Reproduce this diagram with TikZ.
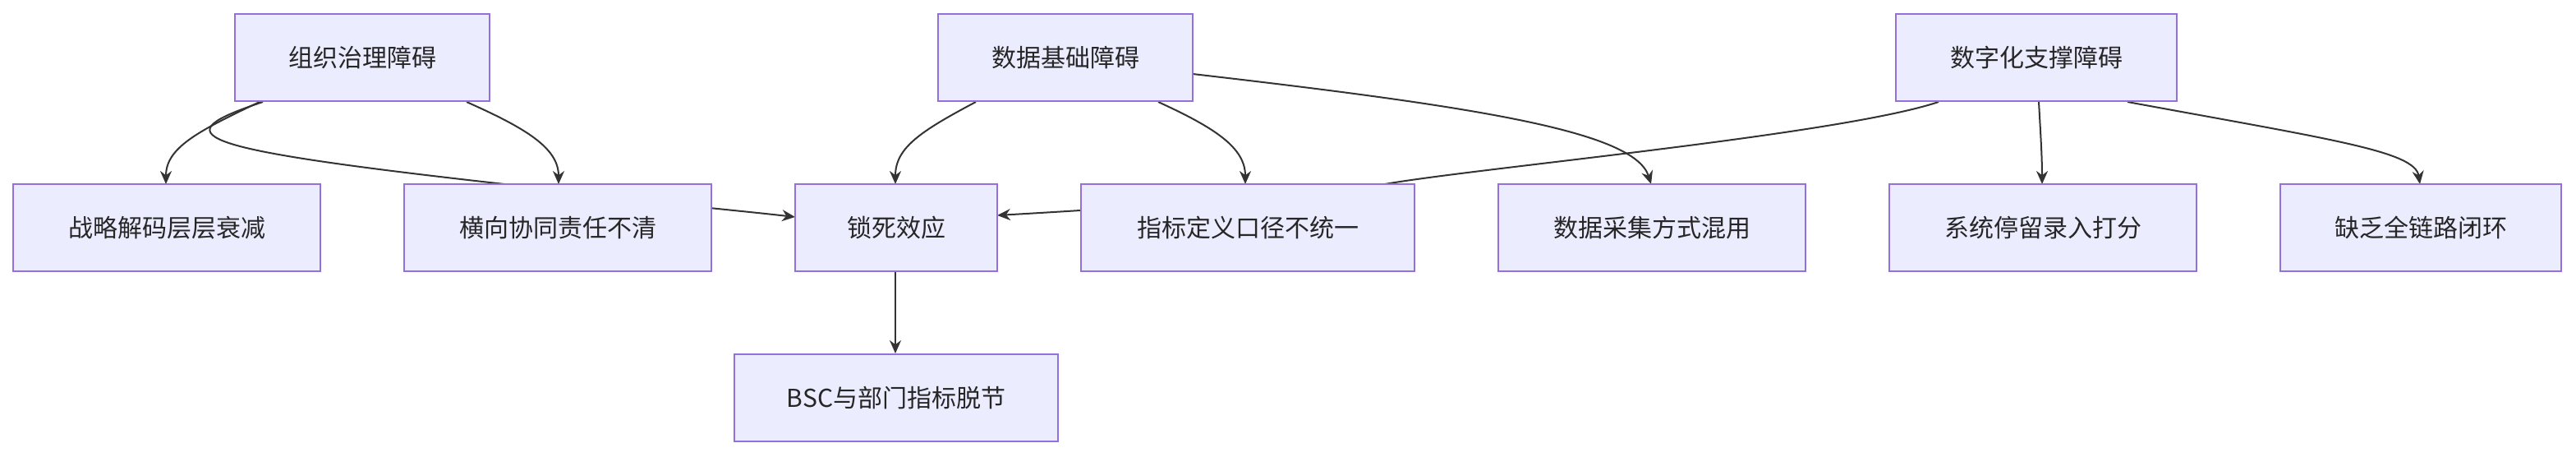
\documentclass[tikz,border=0pt]{standalone}
\usepackage{fontspec}
\setmainfont{Noto Sans CJK SC}
\usetikzlibrary{arrows.meta}
\definecolor{nfill}{HTML}{ECECFF}
\definecolor{nborder}{HTML}{9370DB}
\definecolor{eline}{HTML}{333333}
\begin{document}
\begin{tikzpicture}[x=1pt,y=-1pt,
  box/.style={draw=nborder,fill=nfill,line width=0.8pt,minimum height=53pt,inner sep=0pt,font=\fontsize{15}{18}\selectfont,text=black!85},
  edge/.style={draw=eline,line width=1pt,-{Stealth[length=8pt,width=7pt]}}]
\useasboundingbox (0,0) rectangle (1568,278);
% coordinates for nodes
\coordinate (cA) at (220.5,35);
\coordinate (cB) at (648.5,35);
\coordinate (cC) at (1239.5,35);
% edges first (drawn behind nodes)
\begin{scope}
\draw[edge] (158,62) .. controls (120,80) and (101,90) .. (101,112);
\draw[edge] (284,62) .. controls (320,78) and (340,90) .. (340,112);
\draw[edge] (160,62) .. controls (100,82) and (110,90) .. (307,112) .. controls (380,122) and (440,127) .. (484,132);
\draw[edge] (594,62) .. controls (560,80) and (545,90) .. (545,112);
\draw[edge] (705,62) .. controls (740,78) and (758,90) .. (758,112);
\draw[edge] (726,45) .. controls (900,65) and (995,80) .. (1005,112);
\draw[edge] (1180,62) .. controls (1120,82) and (900,102) .. (843,112) .. controls (760,122) and (660,128) .. (607,131);
\draw[edge] (1241,62) .. controls (1242,80) and (1243,95) .. (1243,112);
\draw[edge] (1295,62) .. controls (1420,85) and (1470,92) .. (1473,112);
\draw[edge] (545,165) -- (545,215);
\end{scope}
\node[box,minimum width=155pt] (zz) at (cA) {组织治理障碍};
\node[box,minimum width=155pt] (sj) at (cB) {数据基础障碍};
\node[box,minimum width=171pt] (sz) at (cC) {数字化支撑障碍};
\node[box,minimum width=187pt] (zl) at (101.5,138.5) {战略解码层层衰减};
\node[box,minimum width=187pt] (hx) at (339.5,138.5) {横向协同责任不清};
\node[box,minimum width=123pt] (ss) at (545.5,138.5) {锁死效应};
\node[box,minimum width=203pt] (zb) at (759.5,138.5) {指标定义口径不统一};
\node[box,minimum width=187pt] (cj) at (1005.5,138.5) {数据采集方式混用};
\node[box,minimum width=187pt] (xt) at (1243.5,138.5) {系统停留录入打分};
\node[box,minimum width=171pt] (qf) at (1473.5,138.5) {缺乏全链路闭环};
\node[box,minimum width=197pt] (bsc) at (545.5,242) {BSC与部门指标脱节};
\end{tikzpicture}
\end{document}
